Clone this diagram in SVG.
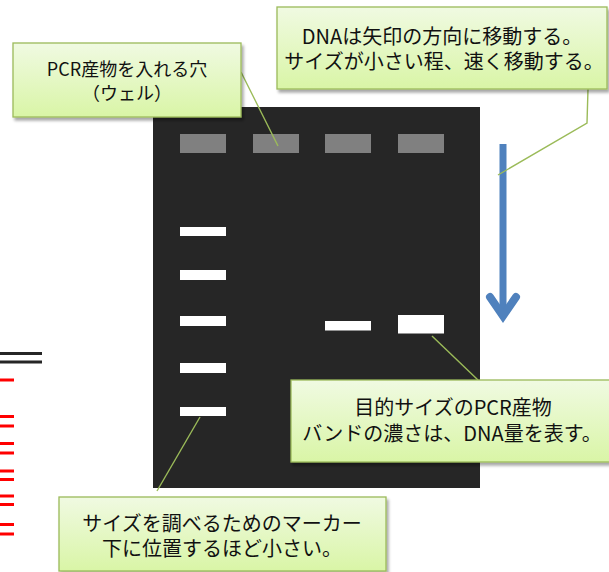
<svg xmlns="http://www.w3.org/2000/svg" width="609" height="572" viewBox="0 0 609 572">
  <defs>
    <linearGradient id="cg" x1="0" y1="0" x2="0" y2="1">
      <stop offset="0" stop-color="#f0fae2"/>
      <stop offset="1" stop-color="#d9f5a6"/>
    </linearGradient>
    <filter id="sh" x="-10%" y="-10%" width="125%" height="140%">
      <feGaussianBlur in="SourceAlpha" stdDeviation="1.8"/>
      <feOffset dx="2" dy="2.5" result="b"/>
      <feComponentTransfer><feFuncA type="linear" slope="0.35"/></feComponentTransfer>
      <feMerge><feMergeNode/><feMergeNode in="SourceGraphic"/></feMerge>
    </filter>
  </defs>
  <style>
    .box { fill: url(#cg); stroke: #9bbb59; stroke-width: 1.3; filter: url(#sh); }
    .t { font-family: "Noto Sans CJK JP", "Noto Sans", sans-serif; fill: #111; text-anchor: middle; }
    .ptr { stroke: #9bbb59; stroke-width: 1.4; fill: none; }
    .well { fill: #808080; }
    .band { fill: #ffffff; }
    .red { stroke: #ff0000; stroke-width: 3; }
    .blk { stroke: #262626; stroke-width: 3; }
  </style>
  <rect width="609" height="572" fill="#ffffff"/>

  <g id="side-lines">
    <line class="blk" x1="0" y1="353.5" x2="42" y2="353.5"/>
    <line class="blk" x1="0" y1="362" x2="42" y2="362"/>
    <line class="red" x1="0" y1="380" x2="14" y2="380"/>
    <line class="red" x1="0" y1="416.5" x2="14" y2="416.5"/>
    <line class="red" x1="0" y1="426" x2="14" y2="426"/>
    <line class="red" x1="0" y1="443.5" x2="14" y2="443.5"/>
    <line class="red" x1="0" y1="453" x2="14" y2="453"/>
    <line class="red" x1="0" y1="471" x2="14" y2="471"/>
    <line class="red" x1="0" y1="479.5" x2="14" y2="479.5"/>
    <line class="red" x1="0" y1="496" x2="14" y2="496"/>
    <line class="red" x1="0" y1="504.5" x2="14" y2="504.5"/>
    <line class="red" x1="0" y1="524.5" x2="14" y2="524.5"/>
    <line class="red" x1="0" y1="534" x2="14" y2="534"/>
  </g>

  <g id="gel">
    <rect x="153" y="107" width="327" height="381" fill="#262626"/>
    <rect class="well" x="180" y="134" width="46" height="19"/>
    <rect class="well" x="253" y="134" width="46" height="19"/>
    <rect class="well" x="325" y="134" width="46" height="19"/>
    <rect class="well" x="398" y="134" width="46" height="19"/>
    <rect class="band" x="180" y="227" width="46" height="9"/>
    <rect class="band" x="180" y="270" width="46" height="10"/>
    <rect class="band" x="180" y="316" width="46" height="10"/>
    <rect class="band" x="180" y="363" width="46" height="10"/>
    <rect class="band" x="180" y="407" width="46" height="9"/>
    <rect class="band" x="325" y="321" width="46" height="9.5"/>
    <rect class="band" x="398" y="315" width="46" height="18.5"/>
  </g>

  <g id="arrow">
    <line x1="503" y1="144" x2="503" y2="316" stroke="#4f81bd" stroke-width="7"/>
    <polyline points="490,297 503,316 516,297" fill="none" stroke="#4f81bd" stroke-width="8" stroke-linejoin="miter" stroke-linecap="round"/>
  </g>

  <g id="connectors">
    <line class="ptr" x1="241" y1="72" x2="278" y2="146"/>
    <polyline class="ptr" points="588,89 587,123 498,175"/>
    <line class="ptr" x1="432" y1="336" x2="478" y2="380"/>
    <line class="ptr" x1="157" y1="491" x2="200" y2="417"/>
  </g>

  <g id="callout-well">
    <rect class="box" x="13" y="43" width="228" height="74"/>
    <text class="t" x="127" y="76" font-size="18">PCR産物を入れる穴</text>
    <text class="t" x="127" y="100" font-size="18">（ウェル）</text>
  </g>

  <g id="callout-direction">
    <rect class="box" x="277" y="7" width="330" height="82"/>
    <text class="t" x="442" y="44" font-size="20">DNAは矢印の方向に移動する。</text>
    <text class="t" x="444" y="69" font-size="20">サイズが小さい程、速く移動する。</text>
  </g>

  <g id="callout-product">
    <rect class="box" x="291" y="380" width="322" height="82"/>
    <text class="t" x="453" y="415" font-size="20">目的サイズのPCR産物</text>
    <text class="t" x="452" y="441" font-size="20">バンドの濃さは、DNA量を表す。</text>
  </g>

  <g id="callout-marker">
    <rect class="box" x="59" y="497" width="327" height="74"/>
    <text class="t" x="222" y="531" font-size="20">サイズを調べるためのマーカー</text>
    <text class="t" x="222" y="556" font-size="20">下に位置するほど小さい。</text>
  </g>
</svg>
